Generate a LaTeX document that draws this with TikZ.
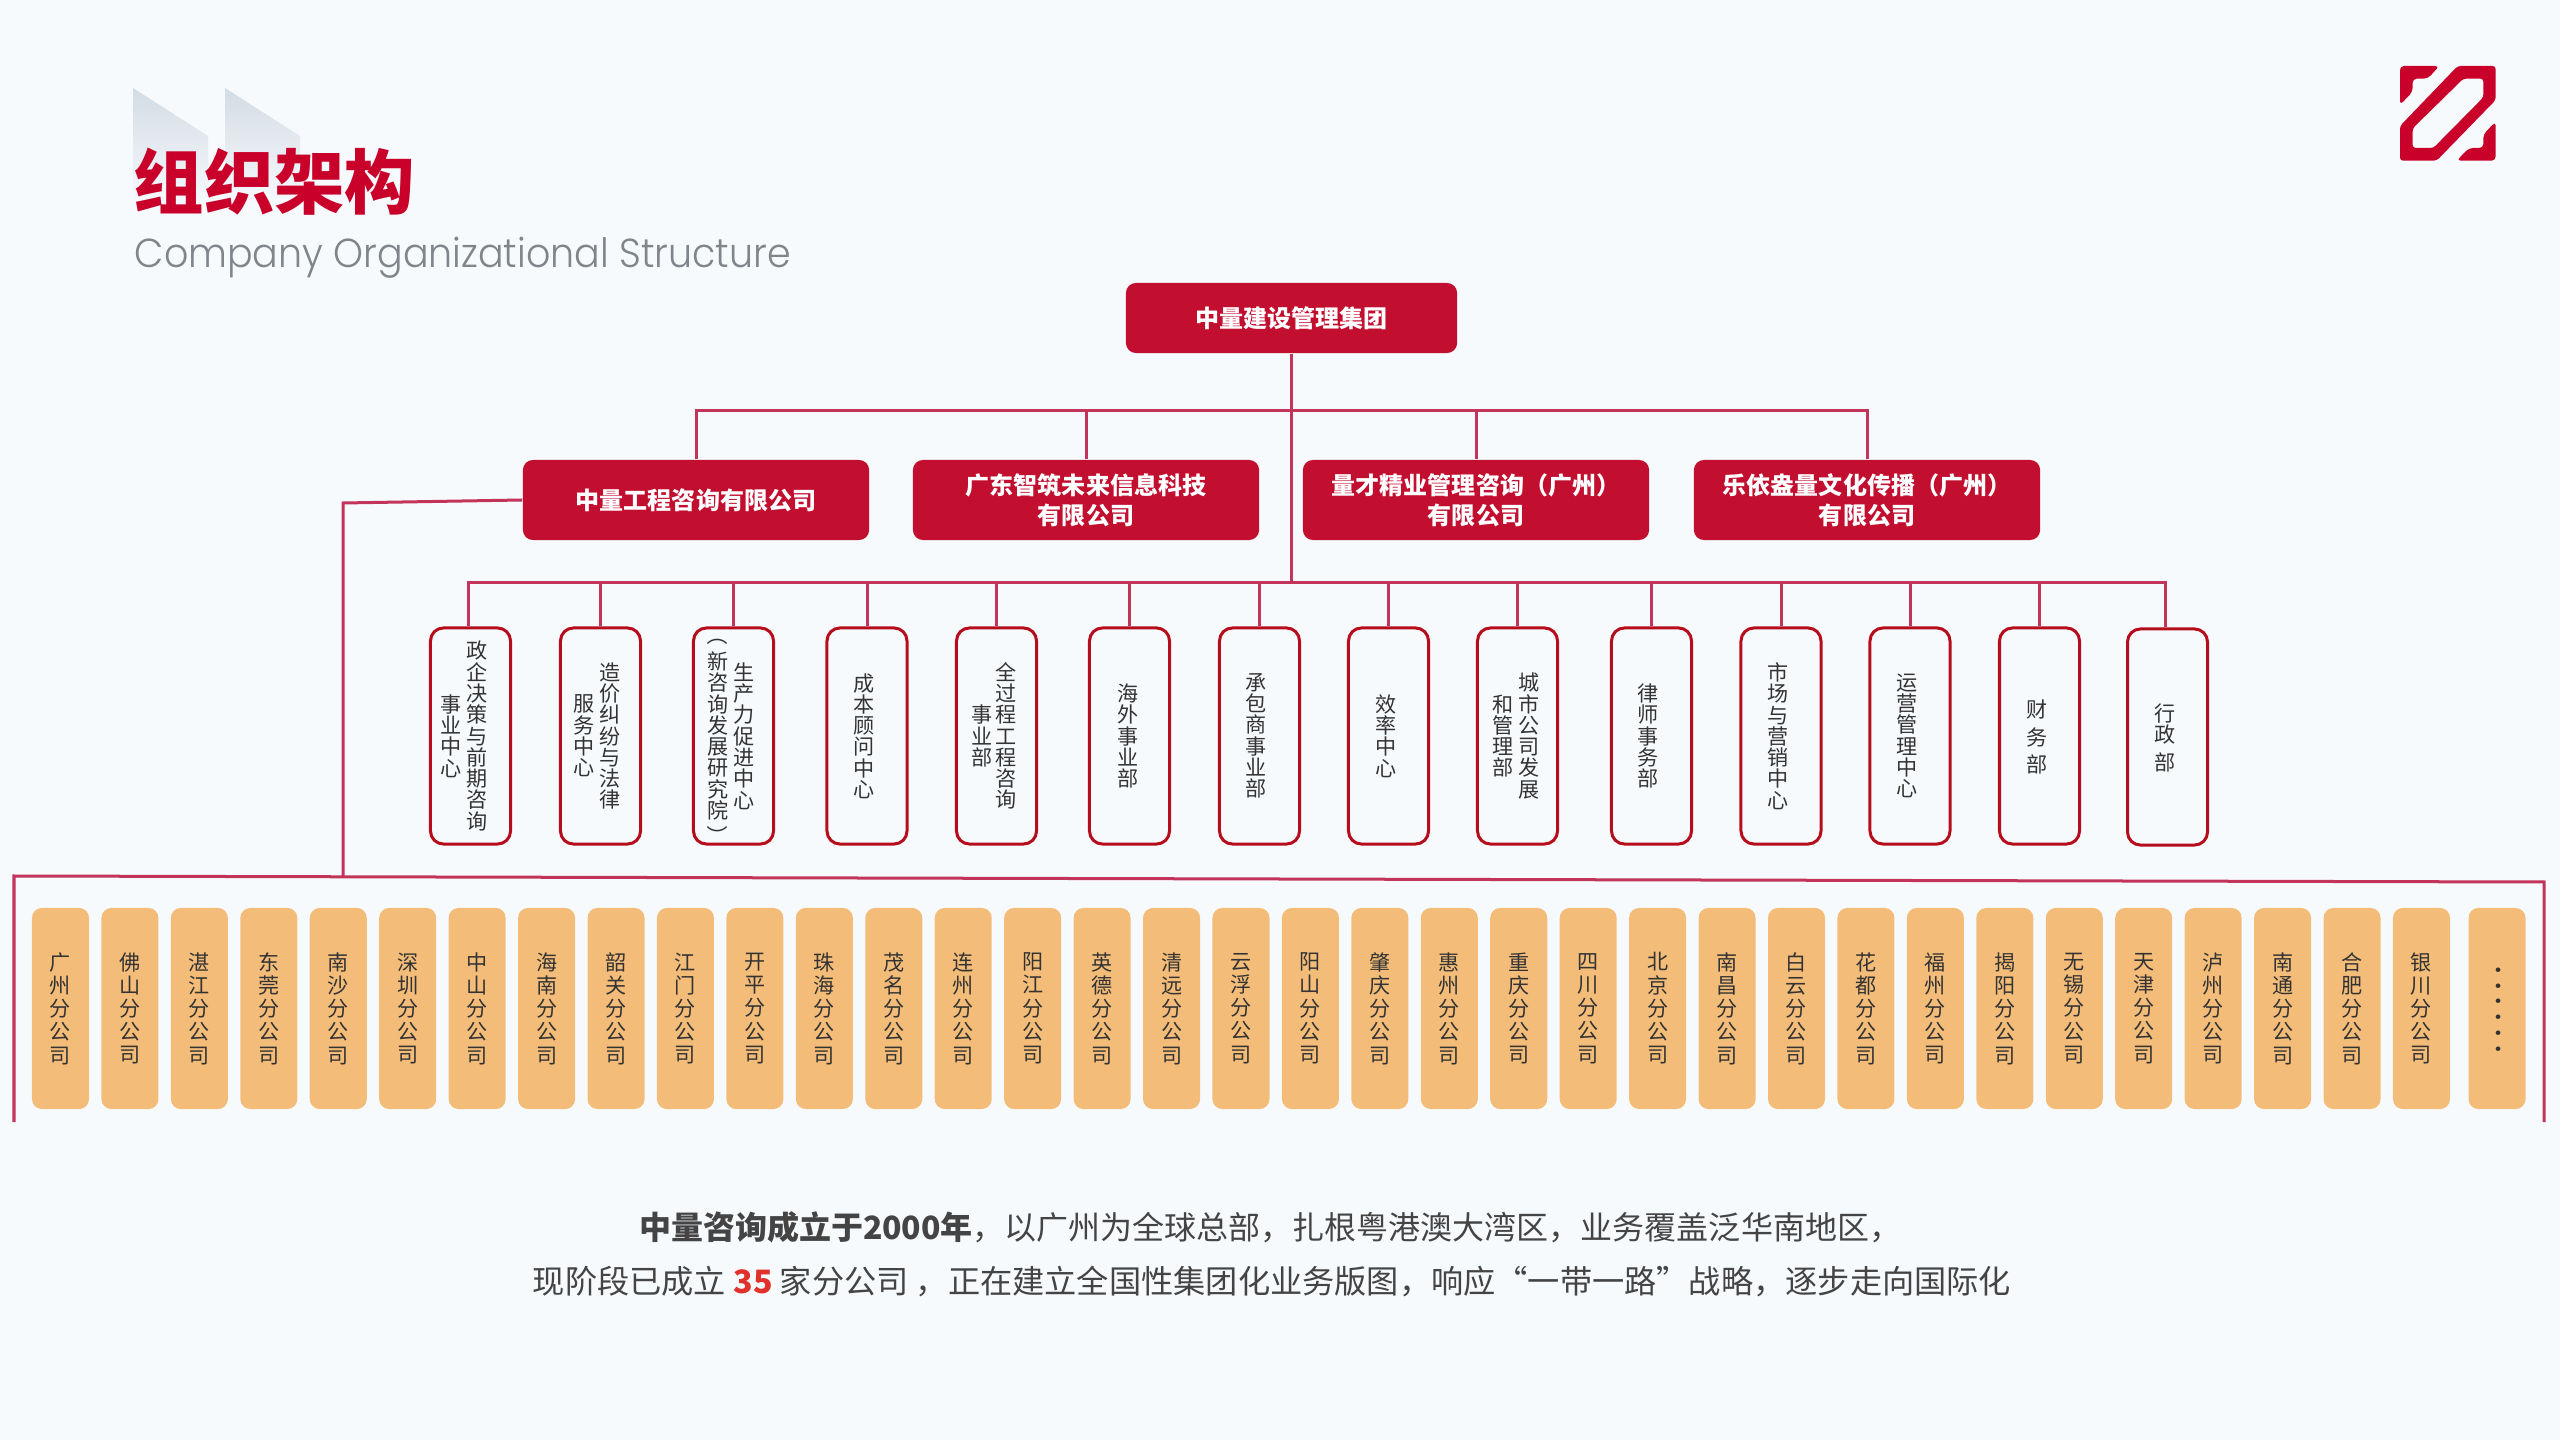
\documentclass[tikz,border=0pt]{standalone}
\usepackage{fontspec}
\setmainfont{Noto Sans CJK SC}
\newfontfamily\enfont[FakeStretch=.94]{Poppins Light}
\XeTeXlinebreaklocale "zh"
\XeTeXlinebreakskip=0pt plus 0.1pt
\definecolor{pagebg}{HTML}{F7FAFD}
\definecolor{brandred}{HTML}{C20E2F}
\definecolor{titlered}{HTML}{C8002A}
\definecolor{linered}{HTML}{C2345A}
\definecolor{edgered}{HTML}{B50D1B}
\definecolor{branchfill}{HTML}{F3BC78}
\definecolor{inktext}{HTML}{333333}
\definecolor{captext}{HTML}{444444}
\definecolor{numred}{HTML}{E1312B}
\definecolor{greytext}{HTML}{7F858A}
\definecolor{wedgegrey}{HTML}{D3DCE4}
\tikzset{
	conn/.style={linered,line width=.03cm},
	redbox/.style={fill=brandred,text=white,rounded corners=.1cm,align=center,inner sep=0pt,
		font=\fontsize{6.83pt}{8.5pt}\selectfont\bfseries},
	deptbox/.style={draw=edgered,line width=.03cm,rounded corners=.13cm,minimum width=.8cm,minimum height=2.16cm},
	vcol/.style={text=inktext,text width=.25cm,align=center,inner sep=0pt,
		font=\fontsize{6pt}{6.05pt}\selectfont},
	branchbox/.style={fill=branchfill,rounded corners=.1cm,minimum width=.57cm,minimum height=2.01cm,inner sep=0pt,
		text=inktext,text width=.25cm,align=center,
		font=\fontsize{6pt}{6.6pt}\selectfont},
	caption/.style={text=captext,inner sep=0pt,font=\fontsize{9.1pt}{11pt}\selectfont}
}

\begin{document}
\begin{tikzpicture}[x=.01cm,y=-.01cm]
	\fill[pagebg] (0,0) rectangle (2560,1440);
	\useasboundingbox (0,0) rectangle (2560,1440);

	\shade[top color=wedgegrey,bottom color=pagebg] (133,88) -- (208,136) -- (208,205) -- (133,205) -- cycle;
	\shade[top color=wedgegrey,bottom color=pagebg] (225,88) -- (300,136) -- (300,205) -- (225,205) -- cycle;
	\node[anchor=west,inner sep=0pt,text=titlered,font=\fontsize{20pt}{21pt}\selectfont\bfseries] (title) at (133,182) {组织架构};
	\node[anchor=west,inner sep=0pt,text=greytext,font=\fontsize{11.5pt}{14pt}\selectfont\enfont] (subtitle) at (134,258) {Company Organizational Structure};

	\begin{scope}[shift={(2340,40)},scale=1/3]
		\fill[titlered,rounded corners=.04cm] (180,78) -- (298,78) -- (263,116) -- (218,116) -- (218,155) -- (180,195) -- cycle;
		\fill[titlered,rounded corners=.04cm] (467,245) -- (467,362) -- (350,362) -- (387,324) -- (430,324) -- (430,283) -- cycle;
		\fill[titlered,even odd rule,rounded corners=.03cm] (353,78) -- (467,78) -- (467,180) -- (290,362) -- (180,362) -- (180,258) -- cycle
			(370,116) -- (430,116) -- (430,172) -- (280,324) -- (218,324) -- (218,265) -- cycle;
	\end{scope}

	\node[redbox,minimum width=3.31cm,minimum height=.7cm] (group) at (1291.5,318) {中量建设管理集团};
	\node[redbox,minimum width=3.46cm,minimum height=.8cm] (subA) at (696,500) {中量工程咨询有限公司};
	\node[redbox,minimum width=3.46cm,minimum height=.8cm] (subB) at (1086,500) {广东智筑未来信息科技\\有限公司};
	\node[redbox,minimum width=3.46cm,minimum height=.8cm] (subC) at (1476,500) {量才精业管理咨询（广州）\\有限公司};
	\node[redbox,minimum width=3.46cm,minimum height=.8cm] (subD) at (1867,500) {乐依盎量文化传播（广州）\\有限公司};

	\coordinate (busA) at (1291.5,411);
	\coordinate (busB) at (1291.5,583);
	\draw[conn] (group.south) -- (busB);
	\draw[conn] (subA.north) |- (busA) -| (subD.north);
	\draw[conn] (subB.north) -- (subB.north |- busA);
	\draw[conn] (subC.north) -- (subC.north |- busA);

	\foreach \idx/\cx/\cy in {1/470.5/736,2/600.5/736,3/733.5/736,4/867/736,5/996.5/736,6/1129.5/736,7/1259.5/736,
		8/1388.5/736,9/1517.5/736,10/1651.5/736,11/1781/736,12/1910/736,13/2039.5/736,14/2167.5/737}
		\node[deptbox] (dept\idx) at (\cx,\cy) {};
	\draw[conn] ([xshift=-.02cm]dept1.north) |- (busB) -| ([xshift=-.02cm]dept14.north);
	\foreach \idx in {2,...,13}
		\draw[conn] (dept\idx.north) -- (dept\idx.north |- busB);

	\foreach \lab/\cx/\txt in {a/477/政企决策与前期咨询,b/451/事业中心,c/610/造价纠纷与法律,d/584/服务中心,
		e/744/生产力促进中心,f/718/新咨询发展研究院,g/864/成本顾问中心,h/1006/全过程工程咨询,i/982/事业部,
		j/1128/海外事业部,k/1256/承包商事业部,l/1386/效率中心,m/1529/城市公司发展,n/1503/和管理部,
		o/1648/律师事务部,p/1778/市场与营销中心,q/1907/运营管理中心}
		\node[vcol] (label\lab) at (\cx,736) {\txt};
	\node[vcol,rotate=-90] (parenopen) at (718,635) {（};
	\node[vcol,rotate=-90] (parenclose) at (718,836) {）};
	\node[vcol,font=\fontsize{6pt}{7.7pt}\selectfont] (labelr) at (2037,737) {财务部};
	\node[vcol] (labels) at (2165,738) {行政\\[.07cm]部};

	\foreach \city [count=\i from 0] in {广州,佛山,湛江,东莞,南沙,深圳,中山,海南,韶关,江门,开平,珠海,茂名,连州,阳江,英德,清远,云浮,
		阳山,肇庆,惠州,重庆,四川,北京,南昌,白云,花都,福州,揭阳,无锡,天津,泸州,南通,合肥,银川}
		\node[branchbox] (branch\i) at (60.5+\i*69.44,1008.5) {\city 分公司};
	\node[branchbox] (branchmore) at (2497,1008.5) {};
	\node[rotate=-90,inner sep=0pt,text=inktext,font=\fontsize{6pt}{7pt}\selectfont\bfseries\addfontfeature{LetterSpace=40}] (branchdots) at (2499,1009.5) {......};

	\coordinate (tapA) at (343,503);
	\coordinate (tapB) at (343,877);
	\coordinate (frameA) at (14,1122);
	\coordinate (frameB) at (14,876);
	\coordinate (frameC) at (2544,882);
	\coordinate (frameD) at (2544,1122);
	\draw[conn] (subA.west) -- (tapA) -- (tapB);
	\draw[conn] (frameA) -- (frameB) -- (frameC) -- (frameD);

	\node[caption] (captionA) at (1270,1227) {\textbf{中量咨询成立于2000年}，以广州为全球总部，扎根粤港澳大湾区，业务覆盖泛华南地区，};
	\node[caption,font=\fontsize{9.16pt}{11pt}\selectfont] (captionB) at (1272,1282) {现阶段已成立 \textcolor{numred}{\textbf{35}} 家分公司 ，正在建立全国性集团化业务版图，响应“一带一路”战略，逐步走向国际化};
\end{tikzpicture}
\end{document}
